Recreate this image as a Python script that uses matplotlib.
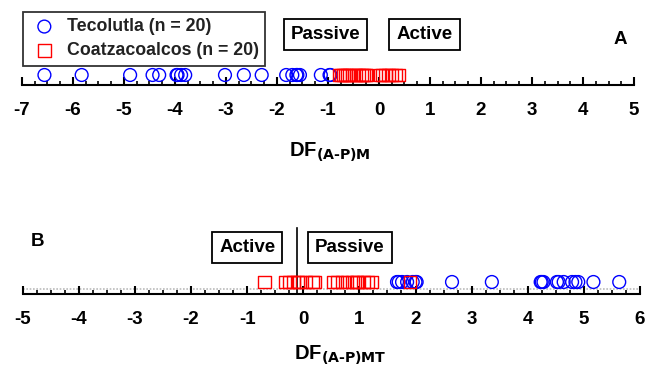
import matplotlib
matplotlib.use('Agg')
import matplotlib.pyplot as plt
from matplotlib.ticker import MultipleLocator

plt.rcParams['font.family'] = ['Liberation Sans', 'DejaVu Sans']
plt.rcParams['font.weight'] = 'bold'

# panel A: DF(A-P)M scores
tecolutla_m = [-6.56, -5.83, -4.88, -4.44, -4.31, -3.97, -3.88, -3.80, -3.95,
               -3.02, -2.65, -2.30, -1.82, -1.70, -1.62, -1.55, -1.60,
               -1.14, -0.97, -0.95]
coatza_m = [-0.78, -0.74, -0.70, -0.66, -0.62, -0.58, -0.52, -0.45, -0.40,
            -0.35, -0.30, -0.26, -0.24, 0.02, 0.06, 0.12, 0.18, 0.25,
            0.32, 0.39]

# panel B: DF(A-P)MT scores
tecolutla_mt = [1.67, 1.76, 1.85, 1.95, 2.02, 2.00, 2.65, 3.36, 4.23, 4.25,
                4.28, 4.52, 4.55, 4.64, 4.79, 4.85, 4.90, 5.17, 5.63, 1.70]
coatza_mt = [-0.69, -0.32, -0.25, -0.17, -0.10, -0.07, 0.05, 0.16, 0.20,
             0.53, 0.60, 0.69, 0.78, 0.87, 0.95, 0.97, 1.08, 1.15, 1.21, 1.90]

W, H = 659, 370
fig = plt.figure(figsize=(W / 100, H / 100), dpi=100)
MS = 85


def strip_axes(left_px, right_px, axis_y_px, xlim, major_step):
    ax = fig.add_axes([left_px / W, (H - axis_y_px) / H,
                       (right_px - left_px) / W, 80 / H])
    ax.set_xlim(*xlim)
    ax.set_ylim(0, 8)
    for s in ['top', 'left', 'right']:
        ax.spines[s].set_visible(False)
    ax.spines['bottom'].set_linewidth(1.5)
    ax.set_yticks([])
    ax.xaxis.set_major_locator(MultipleLocator(major_step))
    ax.xaxis.set_minor_locator(MultipleLocator(0.25))
    ax.tick_params(axis='x', which='major', direction='in', length=6, width=1.5,
                   labelsize=13.5, pad=12)
    ax.tick_params(axis='x', which='minor', direction='in', length=3, width=1.2)
    ax.patch.set_visible(False)
    return ax


box = dict(boxstyle='square,pad=0.38', fc='white', ec='black', lw=1.3)

# ---- panel A
axA = strip_axes(22, 634, 85, (-7, 5), 1)
axA.set_xticklabels([str(int(v)) for v in axA.get_xticks()], fontweight='bold')
axA.scatter(tecolutla_m, [1.0] * len(tecolutla_m), s=MS, marker='o',
            facecolors='none', edgecolors='blue', linewidths=1.0, clip_on=False, zorder=3)
axA.scatter(coatza_m, [1.0] * len(coatza_m), s=MS, marker='s',
            facecolors='none', edgecolors='red', linewidths=1.0, clip_on=False, zorder=3)
axA.text(-1.05, 5.25, 'Passive', fontsize=13.5, fontweight='bold', ha='center',
         va='center_baseline', bbox=box)
axA.text(0.89, 5.25, 'Active', fontsize=13.5, fontweight='bold', ha='center',
         va='center_baseline', bbox=box)
axA.text(4.73, 4.5, 'A', fontsize=13.5, fontweight='bold', ha='center', va='center')
fig.text(330 / W, 1 - 152 / H, r'DF$_{\mathbf{(A\text{-}P)M}}$', fontsize=14.5,
         fontweight='bold', ha='center', va='center')

# legend
leg_c = axA.scatter([], [], s=MS, marker='o', facecolors='none', edgecolors='blue', linewidths=1.0)
leg_s = axA.scatter([], [], s=MS, marker='s', facecolors='none', edgecolors='red', linewidths=1.0)
leg = fig.legend([leg_c, leg_s], ['Tecolutla (n = 20)', 'Coatzacoalcos (n = 20)'],
                 loc='upper left', bbox_to_anchor=(23 / W, 1 - 12 / H),
                 borderaxespad=0, frameon=True, fancybox=False, edgecolor='black',
                 prop={'size': 12.8, 'weight': 'bold'}, handletextpad=0.4,
                 borderpad=0.35, labelspacing=0.4, handlelength=1.7)
leg.get_frame().set_linewidth(1.3)
for t in leg.get_texts():
    t.set_color('#222222')

# ---- panel B
axB = strip_axes(22.7, 640, 294, (-5, 6), 1)
axB.set_xticklabels([str(int(v)) for v in axB.get_xticks()], fontweight='bold')
axB.axhline(0.5, color='#bbbbbb', lw=1.2, ls=(0, (1, 1)), zorder=1)
axB.scatter(tecolutla_mt, [1.2] * len(tecolutla_mt), s=MS, marker='o',
            facecolors='none', edgecolors='blue', linewidths=1.0, clip_on=False, zorder=3)
axB.scatter(coatza_mt, [1.2] * len(coatza_mt), s=MS, marker='s',
            facecolors='none', edgecolors='red', linewidths=1.0, clip_on=False, zorder=3)
axB.plot([-0.12, -0.12], [0, 6.6], color='black', lw=1.2, zorder=2)
axB.text(-1.0, 4.85, 'Active', fontsize=13.5, fontweight='bold', ha='center',
         va='center_baseline', bbox=box)
axB.text(0.83, 4.85, 'Passive', fontsize=13.5, fontweight='bold', ha='center',
         va='center_baseline', bbox=box)
axB.text(-4.73, 5.2, 'B', fontsize=13.5, fontweight='bold', ha='center', va='center')
fig.text(340 / W, 1 - 355 / H, r'DF$_{\mathbf{(A\text{-}P)MT}}$', fontsize=14.5,
         fontweight='bold', ha='center', va='center')

fig.savefig('out.png', dpi=100)
